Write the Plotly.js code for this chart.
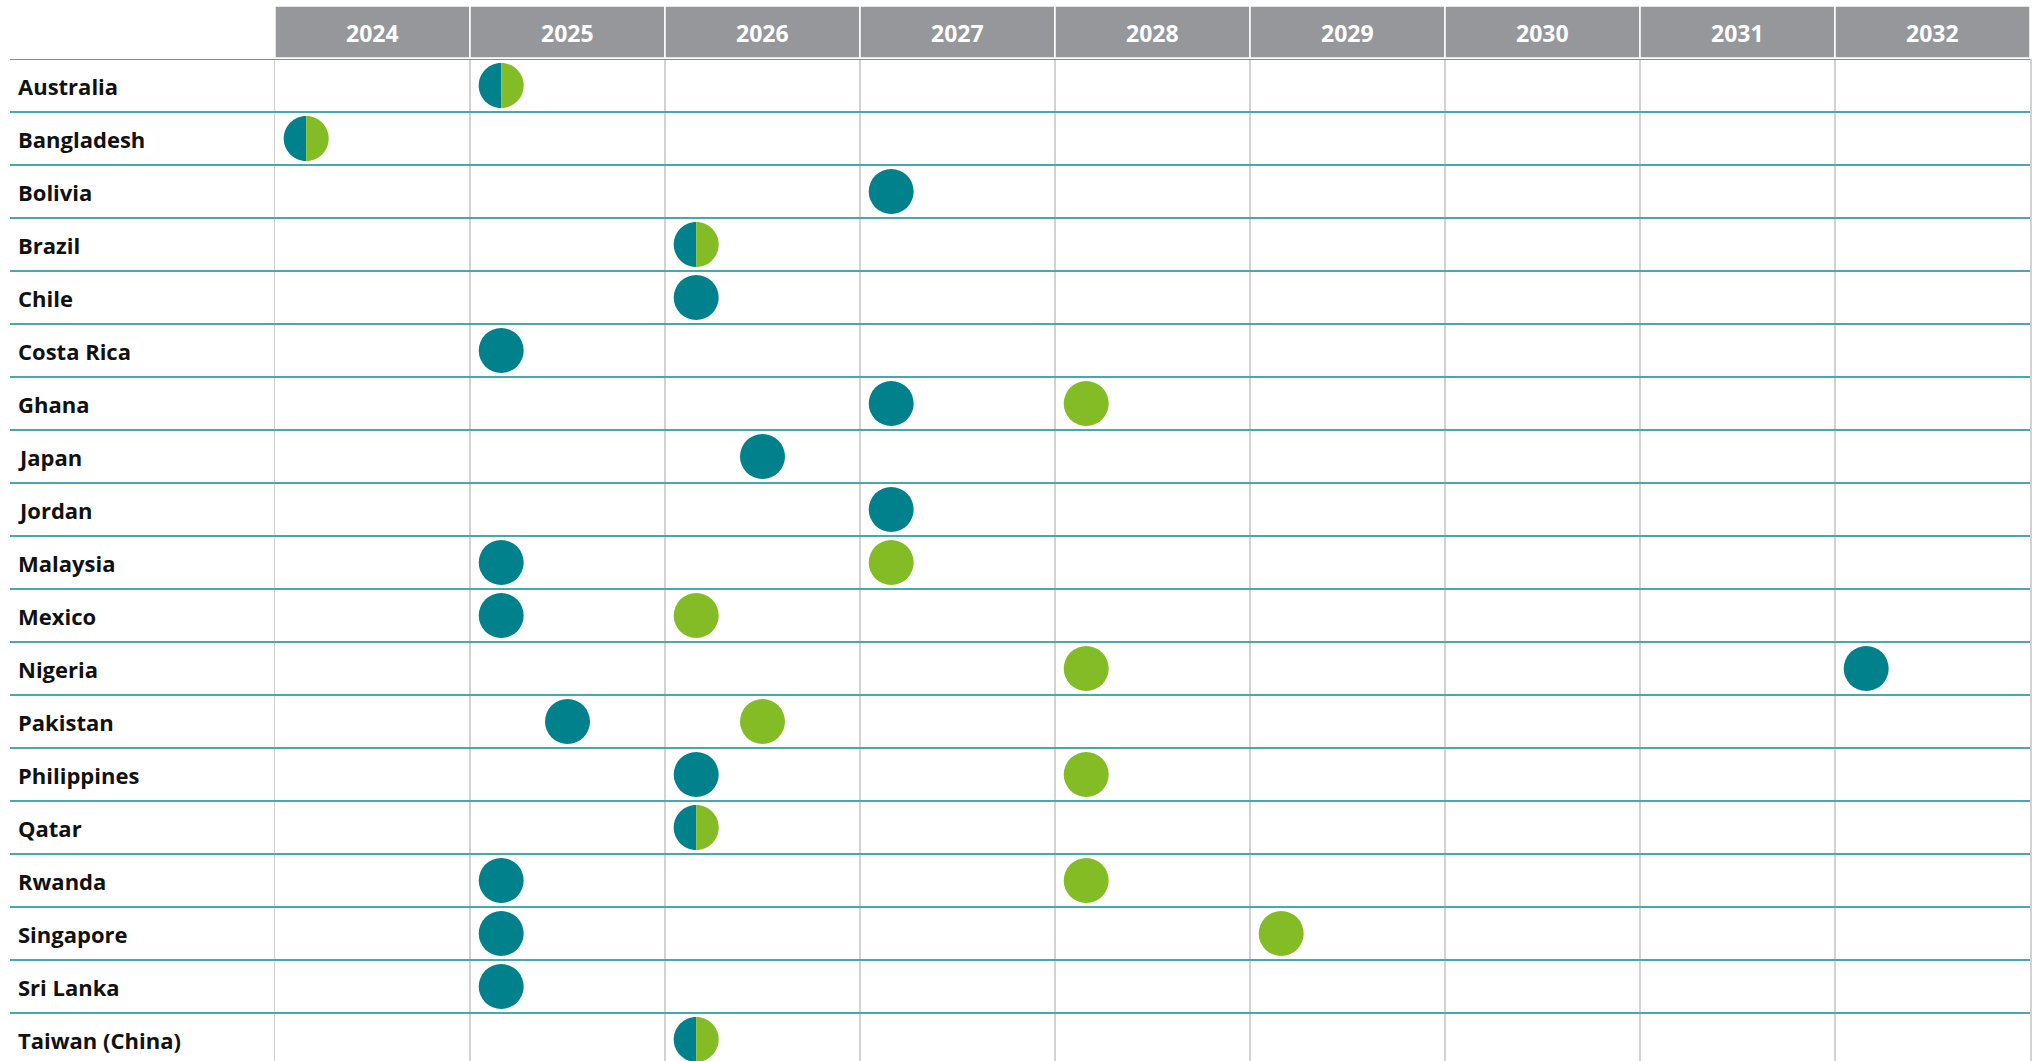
<!DOCTYPE html>
<html>
<head>
<meta charset="utf-8">
<script src="https://cdn.plot.ly/plotly-3.0.1.min.js"></script>
<style>html,body{margin:0;padding:0;background:#fff;}#chart{width:2035px;height:1061px;}</style>
</head>
<body>
<div id="chart"></div>
<script>
// ---- data ----
const countries = ["Australia","Bangladesh","Bolivia","Brazil","Chile","Costa Rica","Ghana","Japan","Jordan","Malaysia","Mexico","Nigeria","Pakistan","Philippines","Qatar","Rwanda","Singapore","Sri Lanka","Taiwan (China)"];
// teal marker dates (fractional year)
const tealDates = [2025.16,2024.16,2027.16,2026.16,2026.16,2025.16,2027.16,2026.5,2027.16,2025.16,2025.16,2032.16,2025.5,2026.16,2026.16,2025.16,2025.16,2025.16,2026.16];
// green marker dates (fractional year); same as teal => split circle
const greenDates = [2025.16,2024.16,null,2026.16,null,null,2028.16,null,null,2027.16,2026.16,2028.16,2026.5,2028.16,2026.16,2028.16,2029.16,null,2026.16];
const years = [2024,2025,2026,2027,2028,2029,2030,2031,2032];

// ---- styles ----
const TEAL = "#00818C", GREEN = "#84BC26", HEADER = "#96979B", GRID = "#D2D2D2", ROWLINE = "#4BA7AF";
const W = 2035, H = 1061, ML = 275, MR = 5, MT = 59, MB = 0;
const ROWH = 53, R = 22.5;
const plotW = W - ML - MR, plotH = H - MT - MB;

const tealX = [], tealY = [], greenX = [], greenY = [];
const shapes = [], annotations = [];
const k = 0.5523 * R;
const leftHalf = `M0,${-R} C${-k},${-R} ${-R},${-k} ${-R},0 C${-R},${k} ${-k},${R} 0,${R} Z`;
const rightHalf = `M0,${-R} C${k},${-R} ${R},${-k} ${R},0 C${R},${k} ${k},${R} 0,${R} Z`;

countries.forEach((c, i) => {
  const t = tealDates[i], g = greenDates[i];
  if (t !== null && g !== null && t === g) {
    [[leftHalf, TEAL],[rightHalf, GREEN]].forEach(([p, col]) => shapes.push({
      type: "path", xref: "x", yref: "y", xsizemode: "pixel", ysizemode: "pixel",
      xanchor: t, yanchor: i, path: p, fillcolor: col, line: {width: 0}, layer: "above"
    }));
  } else {
    if (t !== null) { tealX.push(t); tealY.push(i); }
    if (g !== null) { greenX.push(g); greenY.push(i); }
  }
  annotations.push({
    xref: "paper", yref: "y", x: (16 - ML) / plotW, y: i, xanchor: "left", yanchor: "middle",
    text: c, showarrow: false, font: {family: "Open Sans", size: 22, color: "#111", weight: 700}
  });
});

// horizontal row lines
for (let i = 0; i <= countries.length; i++) {
  shapes.push({type: "line", xref: "paper", yref: "y", x0: (10 - ML) / plotW, x1: 1, y0: i - 0.5, y1: i - 0.5,
    line: {color: ROWLINE, width: 2}, layer: "above"});
}

// header cells
const hy0 = 1 + (MT - 58) / plotH, hy1 = 1 + (MT - 6) / plotH;
years.forEach(y => {
  shapes.push({type: "rect", xref: "x", yref: "paper", x0: y, x1: y + 1, y0: hy0, y1: hy1,
    fillcolor: HEADER, line: {color: "#ffffff", width: 1.5}, layer: "above"});
  annotations.push({xref: "x", yref: "paper", x: y + 0.5, y: 1 + (MT - 33) / plotH, xanchor: "center", yanchor: "middle",
    text: String(y), showarrow: false, font: {family: "Open Sans", size: 23, color: "#ffffff", weight: 700}});
});

const traces = [
  {type: "scatter", mode: "markers", x: tealX, y: tealY, marker: {size: 45, color: TEAL, line: {width: 0}}, hoverinfo: "skip", cliponaxis: false},
  {type: "scatter", mode: "markers", x: greenX, y: greenY, marker: {size: 45, color: GREEN, line: {width: 0}}, hoverinfo: "skip", cliponaxis: false}
];

const layout = {
  width: W, height: H, margin: {l: ML, r: MR, t: MT, b: MB, pad: 0},
  paper_bgcolor: "#fff", plot_bgcolor: "#fff", showlegend: false,
  xaxis: {range: [years[0], years[years.length - 1] + 1], tickvals: years.concat([years[years.length-1]+1]),
    showgrid: true, gridcolor: GRID, gridwidth: 1.5, showticklabels: false, ticks: "", zeroline: false, showline: false, fixedrange: true},
  yaxis: {range: [-0.5 + plotH / ROWH, -0.5], showgrid: false, showticklabels: false, ticks: "", zeroline: false,
    showline: true, mirror: true, linecolor: GRID, linewidth: 1.5, fixedrange: true},
  shapes: shapes, annotations: annotations
};

Plotly.newPlot("chart", traces, layout, {displayModeBar: false, staticPlot: true});
</script>
</body>
</html>
